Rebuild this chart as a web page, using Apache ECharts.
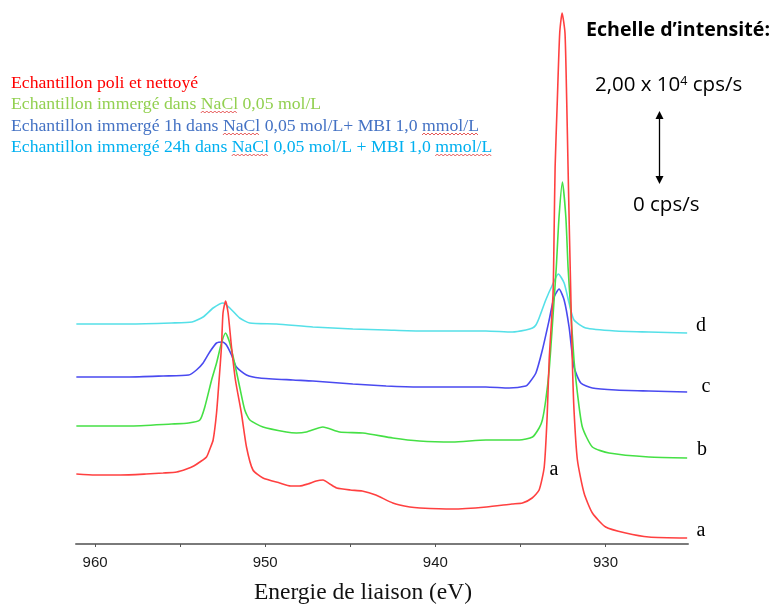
<!DOCTYPE html>
<html>
<head>
<meta charset="utf-8">
<script src="https://cdn.jsdelivr.net/npm/echarts@6/dist/echarts.min.js"></script>
<style>html,body{margin:0;padding:0;background:#fff}#c{width:774px;height:605px}</style>
</head>
<body>
<div id="c"></div>
<script>
// Binding energy (eV) and offset intensity (arbitrary units, stacked curves)
const redE = [961.1,960,958.5,957,956,955.2,954.62,954.2,953.84,953.45,953.25,953.06,952.86,952.71,952.57,952.48,952.33,952.18,951.98,951.75,951.4,951.1,950.72,950.13,949.15,948.5,947.98,947.5,947,946.6,946.2,945.8,945,944.3,943.5,942.5,941.5,940.9,939,937,935.5,934.88,934.31,933.9,933.6,933.43,933.31,933.08,933.02,932.96,932.83,932.69,932.55,932.38,932.28,932.2,932.12,932.04,931.95,931.85,931.65,931.26,930.77,929.99,928.81,927.45,925.2];
const redI = [70,69,69,70,71,72,75,78,82,87,95,104,131,164,197,231,243,231,197,164,131,97,74,66,61,58,58,60,63,64,60,56,54,53,49,41,37,36,35,37,40,41,46,54,77,127,184,251,311,377,444,511,531,511,444,377,311,251,184,134,84,51,31,17,11,7,6];

const greenE = [961.1,958,955.5,954.5,953.84,953.55,953.15,952.86,952.57,952.33,952.08,951.8,951.5,951.2,950.9,950.13,948.76,948.17,947.58,946.61,945.63,944.26,942.5,940.94,938.98,937.03,935.07,934.29,933.9,933.71,933.51,933.31,933.14,933.02,932.89,932.73,932.53,932.33,932.2,932.08,931.85,931.65,931.36,930.77,929.79,927.45,925.2];
const greenI = [118,118,120,121,124,137,164,181,201,211,201,181,157,134,124,117,112,111,112,117,112,111,106,103,102,104,104,107,116,124,144,174,214,244,277,327,362,327,277,244,184,151,117,97,91,87,86];

const blueE = [961.1,958,956,954.5,954.04,953.65,953.26,952.86,952.51,952.28,951.98,951.69,951.1,950.32,948.37,947.2,944.85,942.89,940.94,938.98,937.03,935.66,934.68,934.49,934.09,933.71,933.31,933.02,932.73,932.43,932.14,931.85,931.45,930.77,929.4,927.45,925.2];
const blueI = [167,167,168,169,174,181,192,201,202,199,189,177,169,166,164,163,160,158,157,157,157,156,158,161,171,194,224,247,255,244,217,177,161,156,154,153,152];

const cyanE = [961.1,958,955.5,954.3,953.65,953.06,952.48,952.08,951.5,950.91,949.34,947.2,944.85,942.89,940.94,938.98,937.03,935.47,934.68,934.29,934.09,933.9,933.51,933.12,932.77,932.43,932.14,931.85,931.16,929.4,927.45,925.2];
const cyanI = [220,220,221,222,227,236,241,236,226,221,220,217,215,214,213,213,213,212,214,216,219,226,244,259,270,261,241,224,216,213,212,211];

const tickValues = [930,935,940,945,950,955,960];
const labelValues = [930,940,950,960];

const legendLines = [
  {text:'Echantillon poli et nettoyé', color:'#ff0000', y:83, wavy:[]},
  {text:'Echantillon immergé dans NaCl 0,05 mol/L', color:'#92d050', y:104, wavy:['NaCl']},
  {text:'Echantillon immergé 1h dans NaCl 0,05 mol/L+ MBI 1,0 mmol/L', color:'#4472c4', y:126, wavy:['NaCl','mmol/L']},
  {text:'Echantillon immergé 24h dans NaCl 0,05 mol/L + MBI 1,0 mmol/L', color:'#00b0f0', y:147, wavy:['NaCl','mmol/L']}
];
const curveLabels = [
  {t:'d', x:701, y:326}, {t:'c', x:706, y:387}, {t:'b', x:702, y:450}, {t:'a', x:701, y:531}, {t:'a', x:554, y:470}
];

function pairs(e, v){ return e.map((x,i)=>[x, v[i]]); }

const chart = echarts.init(document.getElementById('c'), null, {renderer:'canvas'});

const serif = '"Liberation Serif", "Times New Roman", serif';
const sans = '"Open Sans", Lato, sans-serif';
const legFont = '17.7px ' + serif;
const mctx = document.createElement('canvas').getContext('2d');
mctx.font = legFont;

const graphics = [];
legendLines.forEach(l => {
  graphics.push({type:'text', x:11, y:l.y, style:{text:l.text, font:legFont, fill:l.color, textAlign:'left', textVerticalAlign:'middle'}});
  l.wavy.forEach(w => {
    const idx = l.text.indexOf(w);
    const x0 = 11 + mctx.measureText(l.text.slice(0, idx)).width;
    const wd = mctx.measureText(w).width;
    const pts = [];
    const yb = l.y + 8;
    let k = 0;
    for (let x = x0; x <= x0 + wd; x += 2) { pts.push([x, yb + (k % 2 ? -1 : 1)]); k++; }
    graphics.push({type:'polyline', shape:{points:pts}, style:{stroke:'#e03030', lineWidth:0.8, fill:null}});
  });
});

graphics.push({type:'text', x:586, y:30, style:{text:'Echelle d\u2019intensité:', font:'bold 19.6px ' + sans, fill:'#000', textAlign:'left', textVerticalAlign:'middle'}});
graphics.push({type:'text', x:595, y:85, style:{
  text:'{n|2,00 x 10}{s|4}{n| cps/s}',
  textAlign:'left', textVerticalAlign:'middle',
  rich:{ n:{fontSize:20.5, fontFamily:sans, fill:'#000', color:'#000'}, s:{fontSize:12.5, fontFamily:sans, verticalAlign:'top', fill:'#000', color:'#000'} }
}});
graphics.push({type:'text', x:633, y:205, style:{text:'0 cps/s', font:'20.5px ' + sans, fill:'#000', textAlign:'left', textVerticalAlign:'middle'}});
graphics.push({type:'line', shape:{x1:659.5, y1:115, x2:659.5, y2:180}, style:{stroke:'#000', lineWidth:1.3}});
graphics.push({type:'polygon', shape:{points:[[659.5,111],[655.5,119],[663.5,119]]}, style:{fill:'#000'}});
graphics.push({type:'polygon', shape:{points:[[659.5,184],[655.5,176],[663.5,176]]}, style:{fill:'#000'}});

curveLabels.forEach(c => {
  graphics.push({type:'text', x:c.x, y:c.y, style:{text:c.t, font:'20px ' + serif, fill:'#000', textAlign:'center', textVerticalAlign:'middle'}});
});
graphics.push({type:'text', x:363, y:593, style:{text:'Energie de liaison (eV)', font:'23.5px ' + serif, fill:'#111', textAlign:'center', textVerticalAlign:'middle'}});

const mk = (name, e, v, color) => ({
  name, type:'line', data:pairs(e, v), showSymbol:false, symbol:'none', smooth:0.2,
  lineStyle:{color, width:1.6}, itemStyle:{color}, clip:true
});

chart.setOption({
  animation:false,
  backgroundColor:'#fff',
  grid:{left:76, right:86, top:4, bottom:61},
  xAxis:{
    type:'value', min:925.15, max:961.12, inverse:true,
    axisLine:{show:true, lineStyle:{color:'#7a7a7a', width:2}},
    axisTick:{show:true, customValues:tickValues, length:3, lineStyle:{color:'#555', width:1}},
    axisLabel:{show:true, customValues:labelValues, fontSize:15, fontFamily:'"Liberation Sans", Arial, sans-serif', color:'#1a1a1a', margin:11},
    splitLine:{show:false}
  },
  yAxis:{type:'value', min:0, max:540, show:false, splitLine:{show:false}},
  series:[
    mk('d', cyanE, cyanI, '#55e0e8'),
    mk('c', blueE, blueI, '#4a4af0'),
    mk('b', greenE, greenI, '#45e045'),
    mk('a', redE, redI, '#ff4040')
  ],
  graphic:graphics
});
</script>
</body>
</html>
